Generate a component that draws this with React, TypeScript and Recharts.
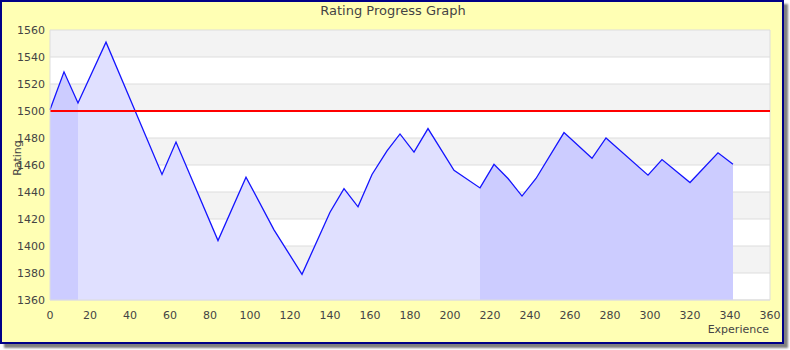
import React from "react";
import {
  ComposedChart,
  Area,
  Line,
  XAxis,
  YAxis,
  CartesianGrid,
  ReferenceLine,
} from "recharts";

// experience points (x) and rating after each game (y)
const experience = [
  0, 7, 14, 28, 42, 56, 63, 84, 98, 112, 126, 140, 147, 154, 161, 168.5, 175,
  182, 189, 202, 215, 222, 229, 236, 243, 257, 271, 278, 299, 306, 320, 334,
  341.5,
];
const rating = [
  1501, 1529, 1506, 1551, 1502, 1453, 1477, 1404, 1451, 1412, 1379, 1425,
  1442.5, 1429, 1453, 1470.5, 1483, 1469.5, 1487, 1456, 1443, 1460.5, 1450,
  1437, 1450, 1484, 1465, 1480, 1452.5, 1464, 1447, 1469, 1460.5,
];

// shaded stretches under the curve (start xp of each), alternating shades
const segmentStarts = [0, 14, 215];
const segmentColors = ["#ccccff", "#e0e0ff", "#ccccff"];

const xTicks = [0, 20, 40, 60, 80, 100, 120, 140, 160, 180, 200, 220, 240, 260, 280, 300, 320, 340, 360];
const yTicks = [1360, 1380, 1400, 1420, 1440, 1460, 1480, 1500, 1520, 1540, 1560];
const startRating = 1500;

const FONT = "'DejaVu Sans', sans-serif";
const TEXT = "#444";

const data = experience.map((xp, i) => {
  const row: Record<string, number | null> = { xp, rating: rating[i] };
  segmentStarts.forEach((start, s) => {
    const end = s + 1 < segmentStarts.length ? segmentStarts[s + 1] : Infinity;
    row[`seg${s}`] = xp >= start && xp <= end ? rating[i] : null;
  });
  return row;
});

export default function App() {
  return (
    <div style={{ position: "relative", width: 790, height: 350, fontFamily: FONT }}>
      <style>{`body{margin:0}`}</style>
      <div
        style={{
          position: "absolute",
          left: 0,
          top: 0,
          width: 780,
          height: 340,
          border: "2px solid #000088",
          background: "#ffffb4",
          boxShadow: "4px 4px 2px #808080",
        }}
      />
      <div style={{ position: "absolute", left: 0, top: 0 }}>
        <ComposedChart
          width={790}
          height={350}
          data={data}
          margin={{ top: 30, right: 20, bottom: 20, left: 10 }}
        >
          <CartesianGrid
            vertical={false}
            stroke="#dddddd"
            horizontalFill={["#f3f3f3", "#ffffff"]}
            fillOpacity={1}
          />
          <XAxis
            type="number"
            dataKey="xp"
            domain={[0, 360]}
            ticks={xTicks}
            height={30}
            tickLine={false}
            axisLine={{ stroke: "#dddddd" }}
            tick={{ fontSize: 11, fill: TEXT, fontFamily: FONT, dy: 3 }}
            interval={0}
          />
          <YAxis
            type="number"
            domain={[1360, 1560]}
            ticks={yTicks}
            width={40}
            tickLine={false}
            axisLine={{ stroke: "#dddddd" }}
            tick={{ fontSize: 11, fill: TEXT, fontFamily: FONT, dx: 3 }}
            interval={0}
          />
          <ReferenceLine x={360} stroke="#dddddd" ifOverflow="extendDomain" />
          {segmentStarts.map((_, s) => (
            <Area
              key={s}
              type="linear"
              dataKey={`seg${s}`}
              stroke="none"
              fill={segmentColors[s]}
              fillOpacity={1}
              dot={false}
              activeDot={false}
              baseValue={1360}
              isAnimationActive={false}
            />
          ))}
          <Line
            type="linear"
            dataKey="rating"
            stroke="#1414ff"
            strokeWidth={1.3}
            dot={false}
            activeDot={false}
            isAnimationActive={false}
          />
          <ReferenceLine y={startRating} stroke="#ff0000" strokeWidth={2} />
        </ComposedChart>
      </div>
      <svg
        width={790}
        height={350}
        style={{ position: "absolute", left: 0, top: 0, pointerEvents: "none" }}
        fontFamily={FONT}
        fill={TEXT}
      >
        <text x={393} y={15} fontSize={13} textAnchor="middle">
          Rating Progress Graph
        </text>
        <text
          x={21}
          y={158}
          fontSize={11}
          textAnchor="middle"
          transform="rotate(-90 21 158)"
        >
          Rating
        </text>
        <text x={769} y={333} fontSize={11} textAnchor="end">
          Experience
        </text>
      </svg>
    </div>
  );
}
